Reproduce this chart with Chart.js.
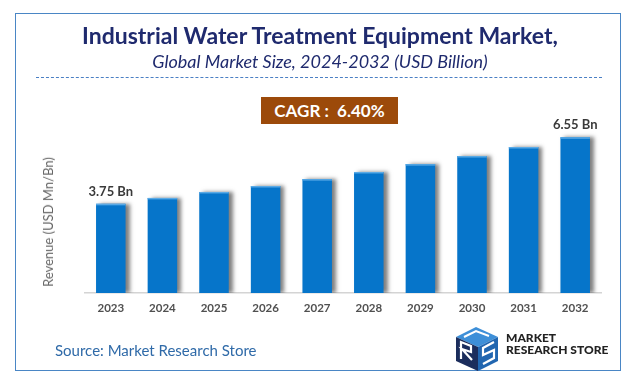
<!DOCTYPE html>
<html>
<head>
<meta charset="utf-8">
<script src="https://cdn.jsdelivr.net/npm/chart.js@4.4.1/dist/chart.umd.min.js"></script>
<style>
  html,body{margin:0;padding:0;background:#fff;}
  body{width:638px;height:385px;position:relative;overflow:hidden;font-family:Lato,"Open Sans",sans-serif;}
  #frame{position:absolute;left:15px;top:13px;width:606px;height:358px;border:1.5px solid #4a86c5;box-sizing:border-box;}
  #cv{position:absolute;left:0;top:0;}
  .t{position:absolute;white-space:nowrap;}
  #title{left:0;width:640px;top:21px;text-align:center;font-weight:700;font-size:23px;color:#1f2a6e;}
  #sub{left:0;width:640px;top:50px;text-align:center;font-style:italic;font-size:18px;color:#1f2a6e;}
  #dash{position:absolute;left:36px;width:566px;top:77px;border-top:1.2px dashed #4a7fc4;}
  #cagr{position:absolute;left:261px;top:97px;width:137px;height:27px;background:#9c4a0a;color:#fff;font-weight:700;font-size:17px;line-height:27px;text-align:center;}
  #ytitle{left:48px;top:222px;transform:translate(-50%,-50%) rotate(-90deg);font-size:13px;color:#666;}
  #src{left:55px;top:341px;font-size:15px;color:#2f6aa8;}
  #logo{position:absolute;left:452px;top:325px;}
  #brand{left:506px;top:332px;font-weight:900;font-size:12px;line-height:12px;color:#222;}
</style>
</head>
<body>
<div id="frame"></div>
<canvas id="cv" width="638" height="385"></canvas>
<div class="t" id="title">Industrial Water Treatment Equipment Market,</div>
<div class="t" id="sub">Global Market Size, 2024-2032 (USD Billion)</div>
<div id="dash"></div>
<div id="cagr">CAGR :&nbsp; 6.40%</div>
<div class="t" id="ytitle">Revenue (USD Mn/Bn)</div>
<div class="t" id="src">Source: Market Research Store</div>
<svg id="logo" width="50" height="48" viewBox="0 0 50 48">
  <polygon points="4,12 24,2 46,12 26,22" fill="#3d8fd8"/>
  <polygon points="4,12 26,22 26,46 4,36" fill="#1b2d5c"/>
  <polygon points="26,22 46,12 46,36 26,46" fill="#2166b0"/>
  <polyline points="9,34 9,17 19,21 19,27 10,24 20,35" fill="none" stroke="#fff" stroke-width="2.2"/>
  <polyline points="42,17 31,23 31,30 42,25 42,33 31,39" fill="none" stroke="#fff" stroke-width="2.2"/>
  <polyline points="12,12 24,6 37,11" fill="none" stroke="#fff" stroke-width="2"/>
</svg>
<div class="t" id="brand">MARKET<br>RESEARCH STORE</div>
<script>
const years = ['2023','2024','2025','2026','2027','2028','2029','2030','2031','2032'];
const revenue = [3.75, 4.00, 4.25, 4.50, 4.79, 5.09, 5.42, 5.76, 6.14, 6.55];
const barLabels = ['3.75 Bn','','','','','','','','','6.55 Bn'];
const yMax = 7;

const shadow = {
  id:'shadow',
  beforeDatasetsDraw(c){const x=c.ctx;x.save();x.shadowColor='rgba(0,0,0,0.5)';x.shadowOffsetX=4;x.shadowOffsetY=0;x.shadowBlur=4;},
  afterDatasetsDraw(c){
    const x=c.ctx;x.restore();
    const meta=c.getDatasetMeta(0);
    x.save();
    meta.data.forEach((b,i)=>{
      x.fillStyle='#5aaae6';
      x.fillRect(b.x-b.width/2,b.y,b.width,1.5);
      if(barLabels[i]){
        x.fillStyle='#3a3a3a';x.font='bold 13px Lato';x.textAlign='center';x.textBaseline='bottom';
        x.fillText(barLabels[i],b.x,b.y-6);
      }
    });
    x.restore();
  }
};

new Chart(document.getElementById('cv'),{
  type:'bar',
  data:{labels:years,datasets:[{data:revenue,backgroundColor:'#0675ca',barPercentage:0.572,categoryPercentage:1}]},
  options:{
    responsive:false,animation:false,
    layout:{padding:{left:85,right:37,top:293-yMax*23.78,bottom:0}},
    plugins:{legend:{display:false},tooltip:{enabled:false}},
    scales:{
      x:{grid:{display:false,drawTicks:false},border:{display:true,color:'#d4d4d4',width:1.5},
         ticks:{color:'#505050',font:{family:'Lato',size:11.5,weight:'bold'},padding:8},
         afterFit(s){s.height=385-293;}},
      y:{display:false,min:0,max:yMax}
    }
  },
  plugins:[shadow]
});
</script>
</body>
</html>
